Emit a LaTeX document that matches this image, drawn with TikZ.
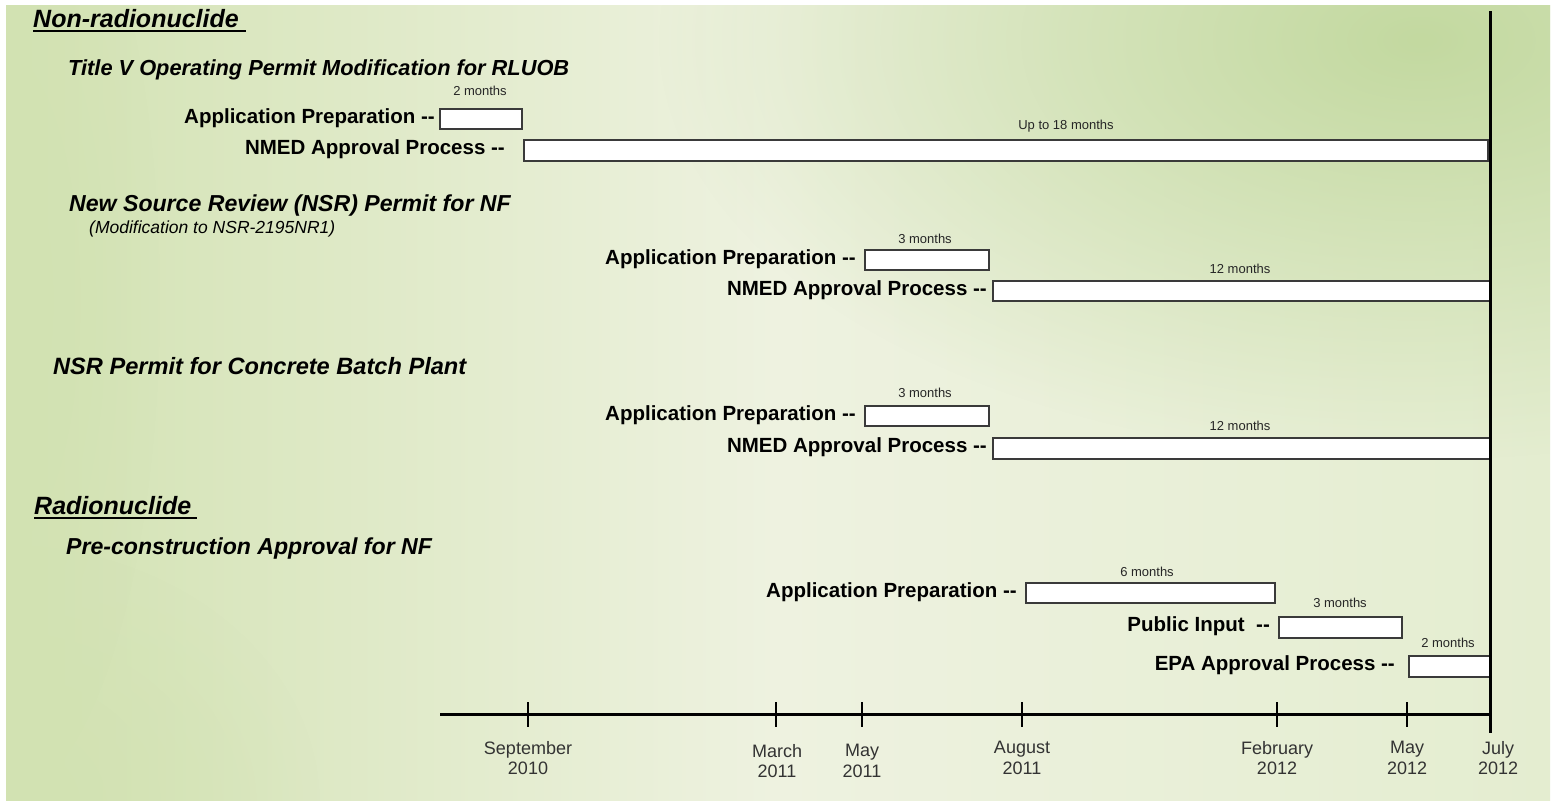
\documentclass[tikz,border=0pt]{standalone}
\usepackage{fontspec}
\setmainfont{Liberation Sans}
\usetikzlibrary{fadings}
\definecolor{bgL}{HTML}{D2E2B2}
\definecolor{bgC}{HTML}{EEF2E0}
\definecolor{bgR}{HTML}{E4EDD0}
\definecolor{bgTR}{HTML}{C3D9A0}
\definecolor{barc}{HTML}{3A3A3A}
\definecolor{datec}{HTML}{333333}
\tikzfading[name=glow, inner color=transparent!0, outer color=transparent!100]
\begin{document}
\begin{tikzpicture}[x=1pt,y=-1pt,
  lab/.style={font=\fontsize{20.5}{24}\selectfont\bfseries, inner sep=0pt, anchor=east},
  head/.style={font=\fontsize{21.8}{26}\selectfont\bfseries\itshape, inner sep=0pt, anchor=base west},
  bighead/.style={font=\fontsize{25}{28}\selectfont\bfseries\itshape, inner sep=0pt, anchor=base west},
  sub/.style={font=\fontsize{17.5}{20}\selectfont\itshape, inner sep=0pt, anchor=base west},
  bar/.style={draw=barc, fill=white, line width=1.5pt, inner sep=0pt, anchor=north west},
  dur/.style={font=\fontsize{13}{14}\selectfont, inner sep=0pt, text=black!85},
  axline/.style={line width=3pt},
  tickline/.style={line width=2pt},
  ul/.style={line width=2pt},
  date/.style={font=\fontsize{18}{20.5}\selectfont, align=center, inner sep=0pt, text=datec}]
\useasboundingbox (0,0) rectangle (1554,804);
% background
\fill[white] (0,0) rectangle (1554,804);
\shade[left color=bgL, right color=bgR, middle color=bgC] (6,5) rectangle (1550,800);
\begin{scope}
  \clip (6,5) rectangle (1550,800);
  \fill[bgTR, path fading=glow] (1420,40) ellipse (760 and 420);
  \fill[bgL, path fading=glow] (0,804) ellipse (320 and 260);
  \fill[bgL, path fading=glow] (0,300) ellipse (160 and 500);
\end{scope}

% headings
\node[bighead] (nonrad) at (33,27) {Non-radionuclide};
\draw[ul] (33,31) coordinate (ulA) -- (246,31) coordinate (ulB);
\node[head] (h1) at (68,75) {Title V Operating Permit Modification for RLUOB};
\node[head, font=\fontsize{23.1}{26}\selectfont\bfseries\itshape] (h2) at (69,211) {New Source Review (NSR) Permit for NF};
\node[sub] (h2s) at (89,233) {(Modification to NSR-2195NR1)};
\node[head, font=\fontsize{23.6}{26}\selectfont\bfseries\itshape] (h3) at (53,374) {NSR Permit for Concrete Batch Plant};
\node[bighead] (rad) at (34,514) {Radionuclide};
\draw[ul] (34,518) coordinate (ulC) -- (197,518) coordinate (ulD);
\node[head, font=\fontsize{23.1}{26}\selectfont\bfseries\itshape] (h4) at (66,554) {Pre-construction Approval for NF};

% bars
\node[bar, minimum width=82pt, minimum height=20pt] (a1) at (439,108) {};
\node[bar, minimum width=964pt, minimum height=21pt] (a2) at (523,139) {};
\node[bar, minimum width=124pt, minimum height=20pt] (b1) at (864,249) {};
\node[bar, minimum width=497pt, minimum height=20pt] (b2) at (992,280) {};
\node[bar, minimum width=124pt, minimum height=20pt] (c1) at (864,405) {};
\node[bar, minimum width=497pt, minimum height=21pt] (c2) at (992,437) {};
\node[bar, minimum width=249pt, minimum height=20pt] (d1) at (1025,582) {};
\node[bar, minimum width=123pt, minimum height=21pt] (d2) at (1278,616) {};
\node[bar, minimum width=82pt, minimum height=21pt] (d3) at (1408,655) {};

% durations
\node[dur] (ta1) at (480,91) {2 months};
\node[dur] (ta2) at (1066,126) {Up to 18 months};
\node[dur] (tb1) at (925,239) {3 months};
\node[dur] (tb2) at (1240,269) {12 months};
\node[dur] (tc1) at (925,393) {3 months};
\node[dur] (tc2) at (1240,426) {12 months};
\node[dur] (td1) at (1147,572) {6 months};
\node[dur] (td2) at (1340,603) {3 months};
\node[dur] (td3) at (1448,643) {2 months};

% labels
\node[lab] (la1) at ([xshift=-4pt,yshift=1pt]a1.west) {Application Preparation -{}-};
\node[lab] (la2) at ([xshift=-18pt,yshift=1pt]a2.west) {NMED Approval Process -{}-};
\node[lab] (lb1) at ([xshift=-8pt,yshift=1pt]b1.west) {Application Preparation -{}-};
\node[lab] (lb2) at ([xshift=-5pt,yshift=1pt]b2.west) {NMED Approval Process -{}-};
\node[lab] (lc1) at ([xshift=-8pt,yshift=1pt]c1.west) {Application Preparation -{}-};
\node[lab] (lc2) at ([xshift=-5pt,yshift=1pt]c2.west) {NMED Approval Process -{}-};
\node[lab] (ld1) at ([xshift=-8pt,yshift=1pt]d1.west) {Application Preparation -{}-};
\node[lab] (ld2) at ([xshift=-8pt,yshift=1pt]d2.west) {Public Input\ \ -{}-};
\node[lab] (ld3) at ([xshift=-13pt,yshift=1pt]d3.west) {EPA Approval Process -{}-};

% axis
\coordinate (axL) at (440,714);
\coordinate (axR) at (1492,714);
\coordinate (vTop) at (1490,11);
\coordinate (vBot) at (1490,733);
\draw[axline] (axL) -- (axR);
\draw[axline] (vTop) -- (vBot);
\foreach \n/\x in {t1/528,t2/776,t3/862,t4/1022,t5/1277,t6/1407}{
  \draw[tickline] (\x,702) coordinate (\n a) -- (\x,727) coordinate (\n b);
}
\node[date] (d-sep) at (528,758) {September\\2010};
\node[date] (d-mar) at (777,761) {March\\2011};
\node[date] (d-may) at (862,761) {May\\2011};
\node[date] (d-aug) at (1022,758) {August\\2011};
\node[date] (d-feb) at (1277,758) {February\\2012};
\node[date] (d-may2) at (1407,758) {May\\2012};
\node[date] (d-jul) at (1498,758) {July\\2012};
\end{tikzpicture}
\end{document}
